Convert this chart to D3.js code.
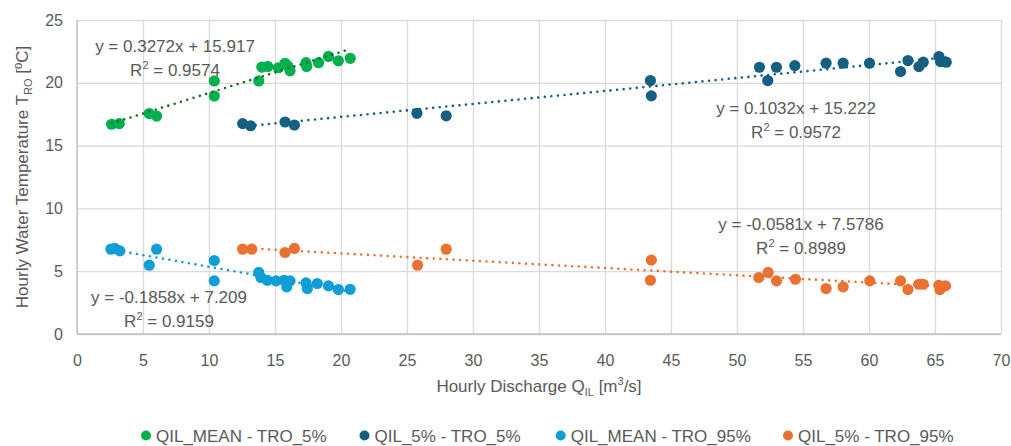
<!DOCTYPE html>
<html><head><meta charset="utf-8">
<script src="https://cdn.jsdelivr.net/npm/d3@7"></script>
<style>
body{margin:0;background:#fff}
text{font-family:"Liberation Sans",Arial,sans-serif;fill:#595959}
</style>
</head><body>
<svg id="chart" width="1011" height="446"></svg>
<script>
// ---------- data ----------
const xTicks = [0,5,10,15,20,25,30,35,40,45,50,55,60,65,70];
const yTicks = [0,5,10,15,20,25];
const seriesNames = ["QIL_MEAN - TRO_5%","QIL_5% - TRO_5%","QIL_MEAN - TRO_95%","QIL_5% - TRO_95%"];
const seriesColors = ["#00B050","#156082","#0F9ED5","#E97132"];
const trendColors = ["#196B24","#156082","#0F9ED5","#E97132"];

const qilMeanX = [2.62,3.2,5.47,6.03,10.4,10.4,13.77,14.0,14.45,15.25,15.76,15.97,16.14,17.35,17.4,18.3,19.05,19.8,20.7];
const tro5MeanY = [16.7,16.75,17.55,17.35,20.15,18.95,20.15,21.25,21.3,21.2,21.55,21.35,20.95,21.6,21.3,21.6,22.1,21.75,21.95];

const qil5X = [12.55,13.15,15.76,16.47,25.75,27.97,43.44,43.51,51.7,52.33,52.99,54.38,56.75,58.04,60.04,62.39,62.95,63.78,64.11,65.3,65.42,65.85];
const tro5Q5Y = [16.75,16.58,16.88,16.64,17.57,17.37,20.18,18.96,21.24,20.18,21.24,21.37,21.56,21.56,21.56,20.9,21.77,21.29,21.64,22.09,21.69,21.64];

const qilMeanX95 = [2.57,2.87,3.25,5.47,6.03,10.4,10.4,13.77,13.94,14.42,15.08,15.69,15.89,16.14,17.35,17.45,18.2,19.05,19.8,20.69];
const tro95MeanY = [6.75,6.81,6.62,5.48,6.75,5.85,4.23,4.9,4.5,4.28,4.23,4.28,3.75,4.23,4.07,3.62,4.02,3.83,3.54,3.56];

const qil5X95 = [12.55,13.24,15.76,16.47,25.8,27.97,43.44,43.51,51.65,52.36,52.99,54.43,56.75,58.04,60.06,62.39,62.95,63.78,64.11,65.3,65.37,65.8];
const tro95Q5Y = [6.75,6.75,6.49,6.81,5.48,6.75,4.28,5.88,4.5,4.9,4.23,4.36,3.62,3.75,4.23,4.23,3.54,3.96,3.96,3.88,3.54,3.83];

const trendSlopes = [0.3272,0.1032,-0.1858,-0.0581];
const trendIntercepts = [15.917,15.222,7.209,7.5786];
const equationTexts = ["y = 0.3272x + 15.917","y = 0.1032x + 15.222","y = -0.1858x + 7.209","y = -0.0581x + 7.5786"];
const r2Values = ["0.9574","0.9572","0.9159","0.8989"];

// ---------- layout ----------
const svg = d3.select("#chart");
const L = 77, R = 1001, T = 20, B = 334;
const x = d3.scaleLinear().domain([0,70]).range([L,R]);
const y = d3.scaleLinear().domain([0,25]).range([B,T]);

const seriesX = [qilMeanX, qil5X, qilMeanX95, qil5X95];
const seriesY = [tro5MeanY, tro5Q5Y, tro95MeanY, tro95Q5Y];

// gridlines
const gx = svg.append("g").attr("transform",`translate(0,${B})`)
  .call(d3.axisBottom(x).tickValues(xTicks).tickSize(-(B-T)).tickFormat(d=>d).tickPadding(14));
const gy = svg.append("g").attr("transform",`translate(${L},0)`)
  .call(d3.axisLeft(y).tickValues(yTicks).tickSize(-(R-L)).tickFormat(d=>d).tickPadding(14));
[gx,gy].forEach(g=>{
  g.select(".domain").remove();
  g.selectAll(".tick line").attr("stroke","#d9d9d9").attr("stroke-width",1.3);
  g.selectAll(".tick text").attr("font-size",16).attr("fill","#595959")
   .style("font-family",'"Liberation Sans",Arial,sans-serif');
});
gx.selectAll(".tick text").attr("dy","1.15em");
// axis lines
svg.append("line").attr("x1",L).attr("x2",R).attr("y1",B).attr("y2",B).attr("stroke","#bfbfbf").attr("stroke-width",1.3);
svg.append("line").attr("x1",L).attr("x2",L).attr("y1",T).attr("y2",B).attr("stroke","#bfbfbf").attr("stroke-width",1.3);

// markers
seriesX.forEach((xs,i)=>{
  svg.append("g").selectAll("circle").data(xs.map((v,j)=>[v,seriesY[i][j]])).join("circle")
    .attr("cx",d=>x(d[0])).attr("cy",d=>y(d[1])).attr("r",5.6).attr("fill",seriesColors[i]);
});

// trendlines
seriesX.forEach((xs,i)=>{
  const x0 = d3.min(xs), x1 = d3.max(xs);
  svg.append("line")
    .attr("x1",x(x0)).attr("y1",y(trendSlopes[i]*x0+trendIntercepts[i]))
    .attr("x2",x(x1)).attr("y2",y(trendSlopes[i]*x1+trendIntercepts[i]))
    .attr("stroke",trendColors[i]).attr("stroke-width",2.6)
    .attr("stroke-linecap","round").attr("stroke-dasharray","0 6.6");
});

// equation labels
const labelPos = [[175,51.5],[796,113.5],[169,302.5],[801,230]];
labelPos.forEach((p,i)=>{
  const g = svg.append("g");
  g.append("text").attr("x",p[0]).attr("y",p[1]).attr("text-anchor","middle").attr("font-size",17).text(equationTexts[i]);
  const t = g.append("text").attr("x",p[0]).attr("y",p[1]+24).attr("text-anchor","middle").attr("font-size",17);
  t.append("tspan").text("R");
  t.append("tspan").attr("font-size",11).attr("dy",-7).text("2");
  t.append("tspan").attr("dy",7).text(" = "+r2Values[i]);
});

// axis titles
const xt = svg.append("text").attr("x",(L+R)/2).attr("y",392).attr("text-anchor","middle").attr("font-size",17);
xt.append("tspan").text("Hourly Discharge Q");
xt.append("tspan").attr("font-size",11).attr("dy",4).text("IL");
xt.append("tspan").attr("dy",-4).text(" [m");
xt.append("tspan").attr("font-size",11).attr("dy",-7).text("3");
xt.append("tspan").attr("dy",7).text("/s]");

const yt = svg.append("text").attr("transform",`translate(28,${(T+B)/2}) rotate(-90)`).attr("text-anchor","middle").attr("font-size",17);
yt.append("tspan").text("Hourly Water Temperature T");
yt.append("tspan").attr("font-size",11).attr("dy",4).text("RO");
yt.append("tspan").attr("dy",-4).text(" [ºC]");

// legend
const legendX = [146,364.5,560.7,788];
seriesNames.forEach((n,i)=>{
  svg.append("circle").attr("cx",legendX[i]).attr("cy",435.5).attr("r",5).attr("fill",seriesColors[i]);
  svg.append("text").attr("x",legendX[i]+10).attr("y",441.5).attr("font-size",17).text(n);
});
</script>
</body></html>
